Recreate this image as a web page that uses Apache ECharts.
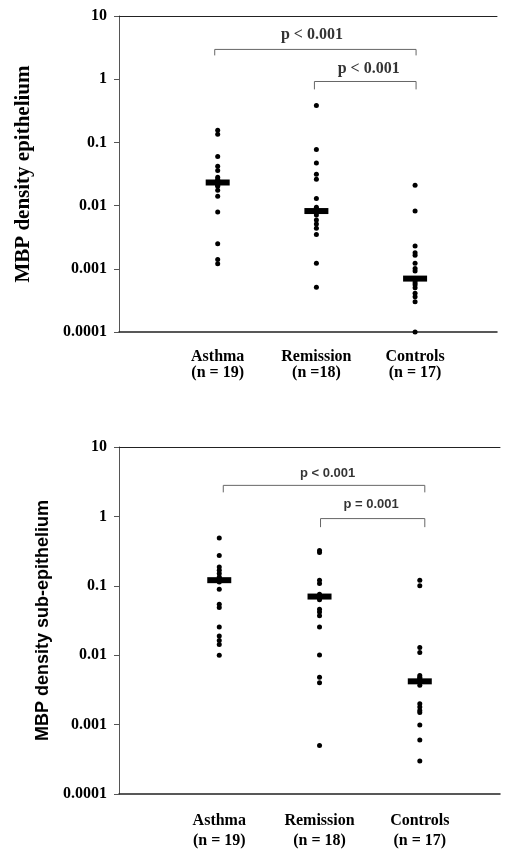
<!DOCTYPE html>
<html>
<head>
<meta charset="utf-8">
<script src="https://cdn.jsdelivr.net/npm/echarts@6/dist/echarts.min.js"></script>
<style>
  html, body { margin: 0; padding: 0; background: #fff; }
  #main { width: 506px; height: 851px; }
</style>
</head>
<body>
<div id="main"></div>
<script>
// groups
var categories = ['Asthma', 'Remission', 'Controls'];
var nLabelsEpi = ['(n = 19)', '(n =18)', '(n = 17)'];
var nLabelsSub = ['(n = 19)', '(n = 18)', '(n = 17)'];

// MBP density, epithelium
var asthmaEpi = [0.155, 0.134, 0.060, 0.042, 0.036, 0.028, 0.026, 0.0245, 0.0237, 0.0232,
  0.022, 0.021, 0.0202, 0.0175, 0.0141, 0.0079, 0.0025, 0.0014, 0.0012];
var remissionEpi = [0.385, 0.0769, 0.0473, 0.0313, 0.0261, 0.0129, 0.0094, 0.0087, 0.0085,
  0.0082, 0.0080, 0.0071, 0.0059, 0.0051, 0.0044, 0.0035, 0.00122, 0.00051];
var controlsEpi = [0.021, 0.0082, 0.0023, 0.0018, 0.00164, 0.00122, 0.00101, 0.00092, 0.0007,
  0.00065, 0.0006, 0.00056, 0.0005, 0.00041, 0.00036, 0.0003, 0.0001];
var mediansEpi = [0.0232, 0.0082, 0.0007];

// MBP density, sub-epithelium
var asthmaSub = [0.487, 0.273, 0.187, 0.167, 0.150, 0.134, 0.129, 0.125, 0.1235, 0.1205,
  0.1135, 0.0889, 0.0543, 0.0488, 0.0254, 0.0189, 0.0163, 0.0143, 0.0100];
var remissionSub = [0.322, 0.303, 0.1205, 0.108, 0.0755, 0.0718, 0.0684, 0.0662, 0.0627,
  0.0461, 0.0419, 0.0371, 0.0254, 0.0101, 0.0048, 0.0040, 0.0005, 0.070];
var controlsSub = [0.1205, 0.100, 0.0129, 0.0109, 0.0051, 0.0048, 0.0046, 0.0044, 0.0042,
  0.0037, 0.0020, 0.0018, 0.0016, 0.0015, 0.00099, 0.0006, 0.0003];
var mediansSub = [0.1205, 0.070, 0.0042];

// significance brackets: [x from, x to, top, foot], labels: [x, y, text]
var bracketsEpi = [[0.97, 3.01, 2.96, 2.38], [1.98, 3.01, 0.92, 0.69]];
var pLabelsEpi = [[1.955, 5.05, 'p < 0.001'], [2.53, 1.47, 'p < 0.001']];
var bracketsSub = [[1.04, 3.05, 2.8, 2.22], [2.01, 3.05, 0.93, 0.70]];
var pLabelsSub = [[2.08, 4.2, 'p < 0.001'], [2.515, 1.49, 'p = 0.001']];

var serif = '"Liberation Serif", "DejaVu Serif", serif';
var sans = '"Liberation Sans", Arial, sans-serif';

var chart = echarts.init(document.getElementById('main'));

function dots(values, x, idx) {
  return {
    type: 'scatter', xAxisIndex: idx * 2, yAxisIndex: idx,
    symbol: 'circle', symbolSize: 5, itemStyle: { color: '#000', opacity: 1 },
    data: values.map(function (v) { return [x, v]; })
  };
}

function medians(values, idx) {
  return {
    type: 'scatter', xAxisIndex: idx * 2, yAxisIndex: idx, z: 3,
    symbol: 'rect', symbolSize: [24, 6], itemStyle: { color: '#000', opacity: 1 },
    data: values.map(function (v, i) { return [i + 1, v]; })
  };
}

function brackets(list, idx) {
  return list.map(function (b) {
    return {
      type: 'line', xAxisIndex: idx * 2, yAxisIndex: idx,
      symbol: 'none', lineStyle: { color: '#666', width: 1 },
      data: [[b[0], b[3]], [b[0], b[2]], [b[1], b[2]], [b[1], b[3]]]
    };
  });
}

function pLabels(list, idx, font, size) {
  return {
    type: 'scatter', xAxisIndex: idx * 2, yAxisIndex: idx,
    symbolSize: 0,
    label: {
      show: true, position: 'inside', color: '#000',
      fontFamily: font, fontWeight: 'bold', fontSize: size,
      formatter: function (p) { return p.data[2]; }
    },
    data: list
  };
}

function xAxes(idx, max, nLabels, lh, margin) {
  return [{
    type: 'value', gridIndex: idx, min: 0, max: max, interval: 1,
    axisLine: { show: true, lineStyle: { color: '#222', width: 1.5 } },
    axisTick: { show: false }, splitLine: { show: false },
    axisLabel: {
      showMaxLabel: false, margin: margin, color: '#000',
      fontFamily: serif, fontWeight: 'bold', fontSize: 16, lineHeight: lh,
      formatter: function (v) {
        var i = Math.round(v) - 1;
        return (i >= 0 && i < 3) ? categories[i] + '\n' + nLabels[i] : '';
      }
    }
  }, {
    type: 'value', gridIndex: idx, position: 'top', min: 0, max: max,
    axisLine: { show: true, lineStyle: { color: '#222', width: 1 } },
    axisTick: { show: false }, axisLabel: { show: false }, splitLine: { show: false }
  }];
}

function yAxis(idx, name, font, size, gap) {
  return {
    type: 'log', logBase: 10, gridIndex: idx, min: 0.0001, max: 10, interval: 1,
    name: name, nameLocation: 'middle', nameGap: gap, nameRotate: 90,
    nameTextStyle: { fontFamily: font, fontWeight: 'bold', fontSize: size, color: '#000' },
    axisLine: { show: true, lineStyle: { color: '#555', width: 1 } },
    axisTick: { show: true, length: 5, lineStyle: { color: '#555' } },
    splitLine: { show: false },
    axisLabel: {
      margin: 12, color: '#000', fontFamily: serif, fontWeight: 'bold', fontSize: 16,
      formatter: function (v) { return String(+(+v).toPrecision(1)); }
    }
  };
}

var series = []
  .concat([dots(asthmaEpi, 1, 0), dots(remissionEpi, 2, 0), dots(controlsEpi, 3, 0), medians(mediansEpi, 0)])
  .concat(brackets(bracketsEpi, 0))
  .concat([pLabels(pLabelsEpi, 0, serif, 16)])
  .concat([dots(asthmaSub, 1, 1), dots(remissionSub, 2, 1), dots(controlsSub, 3, 1), medians(mediansSub, 1)])
  .concat(brackets(bracketsSub, 1))
  .concat([pLabels(pLabelsSub, 1, sans, 13)]);

var option = {
  animation: false,
  backgroundColor: '#fff',
  grid: [
    { left: 119, top: 16, width: 378, height: 316 },
    { left: 119, top: 447, width: 381, height: 351 }
  ],
  xAxis: xAxes(0, 3.83, nLabelsEpi, 16, 17).concat(xAxes(1, 3.8, nLabelsSub, 20, 17)),
  yAxis: [
    yAxis(0, 'MBP density epithelium', serif, 21, 85),
    yAxis(1, 'MBP density sub-epithelium', sans, 18, 63)
  ],
  series: series
};

chart.setOption(option);
</script>
</body>
</html>
